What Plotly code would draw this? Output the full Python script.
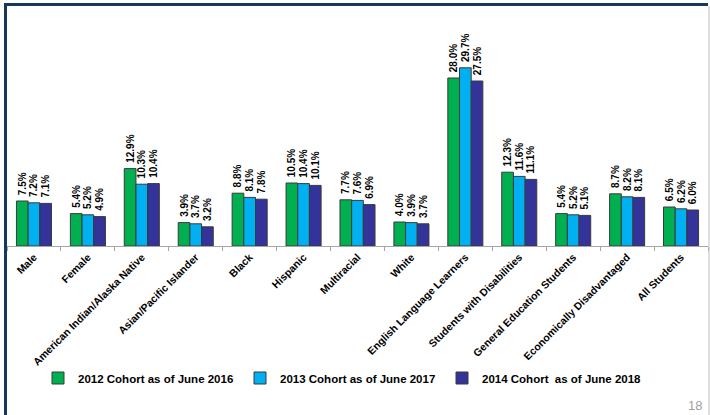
import plotly.graph_objects as go

categories = ["Male", "Female", "American Indian/Alaska Native", "Asian/Pacific Islander",
              "Black", "Hispanic", "Multiracial", "White", "English Language Learners",
              "Students with Disabilities", "General Education Students",
              "Economically Disadvantaged", "All Students"]
series_names = ["2012 Cohort as of June 2016", "2013 Cohort as of June 2017",
                "2014 Cohort  as of June 2018"]
cohort_2012 = [7.5, 5.4, 12.9, 3.9, 8.8, 10.5, 7.7, 4.0, 28.0, 12.3, 5.4, 8.7, 6.5]
cohort_2013 = [7.2, 5.2, 10.3, 3.7, 8.1, 10.4, 7.6, 3.9, 29.7, 11.6, 5.2, 8.2, 6.2]
cohort_2014 = [7.1, 4.9, 10.4, 3.2, 7.8, 10.1, 6.9, 3.7, 27.5, 11.1, 5.1, 8.1, 6.0]
colors = ["#00B050", "#00B0F0", "#333399"]

FONT = "Liberation Sans, Arial, sans-serif"

fig = go.Figure()
for name, vals, col in zip(series_names, [cohort_2012, cohort_2013, cohort_2014], colors):
    fig.add_trace(go.Bar(
        x=categories, y=vals, name=name,
        marker=dict(color=col, line=dict(color="#3A3A3A", width=1)),
        texttemplate="\u00a0%{y:.1f}%", textposition="outside", textangle=-90,
        constraintext="none", cliponaxis=False,
        textfont=dict(family=FONT, size=10, color="#000000", weight="bold"),
    ))

W, H = 710, 415
L, R, T, B = 7, 2, 36, 169
pw, ph = W - L - R, H - T - B

def px(x):
    return (x - L) / pw

def py(y):
    return (H - B - y) / ph

shapes = [
    dict(type="line", xref="paper", yref="paper", x0=px(5.5), x1=px(5.5), y0=py(3), y1=py(415),
         line=dict(color="#17375E", width=3)),
    dict(type="line", xref="paper", yref="paper", x0=px(4), x1=px(708), y0=py(4.5), y1=py(4.5),
         line=dict(color="#17375E", width=3)),
    dict(type="line", xref="paper", yref="paper", x0=px(709), x1=px(709), y0=py(6), y1=py(415),
         line=dict(color="#BFBFBF", width=1)),
]

fig.update_layout(
    width=W, height=H,
    margin=dict(l=L, r=R, t=T, b=B, autoexpand=False),
    paper_bgcolor="white", plot_bgcolor="white",
    barmode="group", bargap=0.35, bargroupgap=0,
    font=dict(family=FONT, color="#000000"),
    showlegend=True,
    legend=dict(orientation="h", x=px(38), y=py(378), xanchor="left", yanchor="middle",
                font=dict(family=FONT, size=11.5, color="#000000", weight="bold"),
                entrywidth=157, entrywidthmode="pixels", itemwidth=30,
                bgcolor="rgba(0,0,0,0)"),
    xaxis=dict(showline=True, linecolor="#A6A6A6", linewidth=1,
               ticks="outside", tickson="boundaries", ticklen=4, tickcolor="#A6A6A6",
               tickangle=-45, tickfont=dict(family=FONT, size=10.5, color="#000000", weight="bold"),
               showgrid=False, zeroline=False),
    yaxis=dict(range=[0, 35], visible=False, showgrid=False, zeroline=False),
    shapes=shapes,
    annotations=[dict(text="18", xref="paper", yref="paper", x=px(704), y=py(405),
                      xanchor="right", yanchor="middle", showarrow=False,
                      font=dict(family=FONT, size=13, color="#A0A0A0"))],
)

fig.write_html("out.html", config={"displayModeBar": False},
               post_script="document.body.style.margin='0';document.body.style.overflow='hidden';")
